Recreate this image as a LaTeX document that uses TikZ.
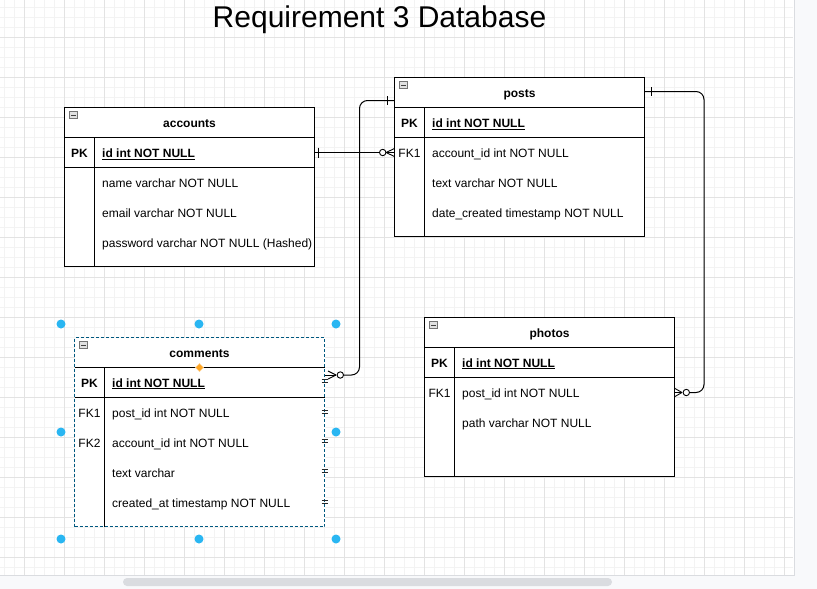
\documentclass[tikz,border=0pt]{standalone}
\usepackage{fontspec}
\setmainfont{Liberation Sans}
\usetikzlibrary{calc}
\definecolor{gridminor}{HTML}{F3F3F3}
\definecolor{gridmajor}{HTML}{E3E3E3}
\definecolor{panel}{HTML}{F8F9FB}
\definecolor{panelline}{HTML}{DADCE0}
\definecolor{scrollc}{HTML}{DADCE0}
\definecolor{handlec}{HTML}{29B6F2}
\definecolor{selblue}{HTML}{00587F}
\definecolor{diamondc}{HTML}{FFA623}
\tikzset{
  tblbox/.style={draw=black, line width=1pt, fill=white, anchor=north west,
    minimum width=250pt, inner sep=0pt, outer sep=0pt},
  selbox/.style={tblbox, draw=selblue, dash pattern=on 3pt off 2pt},
  tline/.style={line width=1pt, black},
  celltext/.style={font=\fontsize{12}{14}\selectfont, anchor=base west, inner sep=0pt},
  keytext/.style={font=\fontsize{12}{14}\selectfont, anchor=base, inner sep=0pt},
  boldkey/.style={font=\bfseries\fontsize{12}{14}\selectfont, anchor=base, inner sep=0pt},
  pktext/.style={font=\bfseries\fontsize{12}{14}\selectfont, anchor=base west, inner sep=0pt},
  hdrtext/.style={font=\bfseries\fontsize{12}{14}\selectfont, anchor=base, inner sep=0pt},
  minusbox/.style={draw=black!55, fill=black!12, line width=0.6pt, minimum width=8pt,
    minimum height=7pt, inner sep=0pt,
    path picture={\draw[line width=0.8pt, black!75]
      ([xshift=1.8pt]path picture bounding box.west) --
      ([xshift=-1.8pt]path picture bounding box.east);}},
  conn/.style={line width=1pt, black},
  ermark/.style={line width=0.9pt, black},
  ringmark/.style={line width=0.9pt, black, fill=white},
  dblmark/.style={line width=0.9pt, black!85},
  handledot/.style={circle, fill=handlec, minimum size=9pt, inner sep=0pt},
}
\begin{document}
\begin{tikzpicture}[x=1pt,y=-1pt]
\useasboundingbox (0,0) rectangle (817,589);
\fill[white] (0,0) rectangle (817,589);
% grid
\foreach \x in {4.5,14.5,...,790} \draw[gridminor, line width=1pt] (\x,0) -- (\x,575);
\foreach \y in {7,17,...,570} \draw[gridminor, line width=1pt] (0,\y) -- (793,\y);
\foreach \x in {24.5,64.5,...,790} \draw[gridmajor, line width=1pt] (\x,0) -- (\x,575);
\foreach \y in {37,77,...,570} \draw[gridmajor, line width=1pt] (0,\y) -- (793,\y);
% panels
\fill[panel] (794,0) rectangle (817,589);
\fill[panel] (0,576) rectangle (817,589);
\draw[panelline, line width=1.5pt] (794.5,0) -- (794.5,576);
\draw[panelline, line width=1pt] (0,575.5) -- (794.5,575.5);
\fill[scrollc, rounded corners=4pt] (123,578) rectangle (612,586);

% title
\node[font=\fontsize{30}{34}\selectfont, anchor=base, inner sep=0pt] (title) at (379.5,27.5) {Requirement 3 Database};

% ===== accounts =====
\node[tblbox, minimum height=159pt] (accounts) at (64.5,107.5) {};
\draw[tline] ($(accounts.north west)+(0,30)$) -- ($(accounts.north east)+(0,30)$);
\draw[tline] ($(accounts.north west)+(0,60)$) -- ($(accounts.north east)+(0,60)$);
\draw[tline] ($(accounts.north west)+(30,30)$) -- ($(accounts.south west)+(30,0)$);
\node[minusbox] (accmin) at ($(accounts.north west)+(8.8,7.5)$) {};
\node[hdrtext] (acch) at (189.5,127.3) {accounts};
\node[boldkey] (acck1) at (79.5,157.8) {PK};
\node[pktext] (accr1) at (102,157.8) {\underline{id int NOT NULL}};
\node[celltext] (accr2) at (102,187.8) {name varchar NOT NULL};
\node[celltext] (accr3) at (102,217.8) {email varchar NOT NULL};
\node[celltext] (accr4) at (102,247.8) {password varchar NOT NULL (Hashed)};

% ===== posts =====
\node[tblbox, minimum height=159pt] (posts) at (394.5,77.5) {};
\draw[tline] ($(posts.north west)+(0,30)$) -- ($(posts.north east)+(0,30)$);
\draw[tline] ($(posts.north west)+(0,60)$) -- ($(posts.north east)+(0,60)$);
\draw[tline] ($(posts.north west)+(30,30)$) -- ($(posts.south west)+(30,0)$);
\node[minusbox] (posmin) at ($(posts.north west)+(8.8,7.5)$) {};
\node[hdrtext] (posh) at (519.5,97.3) {posts};
\node[boldkey] (posk1) at (409.5,127.8) {PK};
\node[keytext] (posk2) at (409.5,157.8) {FK1};
\node[pktext] (posr1) at (432,127.8) {\underline{id int NOT NULL}};
\node[celltext] (posr2) at (432,157.8) {account\_id int NOT NULL};
\node[celltext] (posr3) at (432,187.8) {text varchar NOT NULL};
\node[celltext] (posr4) at (432,217.8) {date\_created timestamp NOT NULL};

% ===== comments (selected) =====
\node[handledot] (hd1) at (61,324) {};
\node[handledot] (hd2) at (199,324) {};
\node[handledot] (hd3) at (336,324) {};
\node[handledot] (hd4) at (61,432) {};
\node[handledot] (hd5) at (336,432) {};
\node[handledot] (hd6) at (61,539) {};
\node[handledot] (hd7) at (199,539) {};
\node[handledot] (hd8) at (336,539) {};
\node[selbox, minimum height=189pt] (comments) at (74.5,337.5) {};
\draw[tline] ($(comments.north west)+(0,30)$) -- ($(comments.north east)+(0,30)$);
\draw[tline] ($(comments.north west)+(0,60)$) -- ($(comments.north east)+(0,60)$);
\draw[tline] ($(comments.north west)+(30,30)$) -- ($(comments.south west)+(30,0)$);
\node[minusbox] (commin) at ($(comments.north west)+(8.8,7.5)$) {};
\node[hdrtext] (comh) at (199.5,357.3) {comments};
\node[boldkey] (comk1) at (89.5,387) {PK};
\node[keytext] (comk2) at (89.5,417) {FK1};
\node[keytext] (comk3) at (89.5,447) {FK2};
\node[pktext] (comr1) at (112,387) {\underline{id int NOT NULL}};
\node[celltext] (comr2) at (112,417) {post\_id int NOT NULL};
\node[celltext] (comr3) at (112,447) {account\_id int NOT NULL};
\node[celltext] (comr4) at (112,477) {text varchar};
\node[celltext] (comr5) at (112,507) {created\_at timestamp NOT NULL};
\fill[diamondc, draw=diamondc!50!white, line width=0.5pt] (199.5,363.5) -- (203.5,367.5) -- (199.5,371.5) -- (195.5,367.5) -- cycle;
\foreach \dy in {43.5,74,103.5,133,164} {
  \draw[dblmark] ($(comments.north east)+(-3,\dy-1.5)$) -- ($(comments.north east)+(3,\dy-1.5)$);
  \draw[dblmark] ($(comments.north east)+(-3,\dy+1.5)$) -- ($(comments.north east)+(3,\dy+1.5)$);
}

% ===== photos =====
\node[tblbox, minimum height=159pt] (photos) at (424.5,317.5) {};
\draw[tline] ($(photos.north west)+(0,30)$) -- ($(photos.north east)+(0,30)$);
\draw[tline] ($(photos.north west)+(0,60)$) -- ($(photos.north east)+(0,60)$);
\draw[tline] ($(photos.north west)+(30,30)$) -- ($(photos.south west)+(30,0)$);
\node[minusbox] (phomin) at ($(photos.north west)+(8.8,7.5)$) {};
\node[hdrtext] (phoh) at (549.5,337.3) {photos};
\node[boldkey] (phok1) at (439.5,367) {PK};
\node[keytext] (phok2) at (439.5,397) {FK1};
\node[pktext] (phor1) at (462,367) {\underline{id int NOT NULL}};
\node[celltext] (phor2) at (462,397) {post\_id int NOT NULL};
\node[celltext] (phor3) at (462,427) {path varchar NOT NULL};

% ===== connectors =====
% accounts.id -> posts.account_id
\coordinate (a1) at ($(accounts.north east)+(0,45)$);
\coordinate (p1) at ($(posts.north west)+(0,75)$);
\draw[conn] (a1) -- ($(p1)+(-14.5,0)$);
\draw[ermark] ($(a1)+(3.5,-5)$) -- ($(a1)+(3.5,5)$);
\draw[ermark] ($(p1)+(-8.5,0)$) -- ($(p1)+(0,-4)$);
\draw[ermark] ($(p1)+(-8.5,0)$) -- (p1);
\draw[ermark] ($(p1)+(-8.5,0)$) -- ($(p1)+(0,4)$);
\draw[ringmark] ($(p1)+(-11.8,0)$) circle (3.2pt);

% posts -> comments
\coordinate (p0) at ($(posts.north west)+(0,23)$);
\coordinate (c0) at ($(comments.north east)+(0,37.5)$);
\draw[conn, rounded corners=8pt] (p0) -| ($(c0)+(35,0)$) -- ($(c0)+(19,0)$);
\draw[ermark] ($(p0)+(-7,-4.5)$) -- ($(p0)+(-7,4.5)$);
\draw[ermark] ($(c0)+(11.5,0)$) -- ($(c0)+(3.5,-4)$);
\draw[ermark] ($(c0)+(11.5,0)$) -- (c0);
\draw[ermark] ($(c0)+(11.5,0)$) -- ($(c0)+(3.5,4)$);
\draw[ringmark] ($(c0)+(15.8,0)$) circle (3.2pt);

% posts -> photos
\coordinate (p3) at ($(posts.north east)+(0,14)$);
\coordinate (h1) at ($(photos.north east)+(0,75)$);
\draw[conn, rounded corners=8pt] (p3) -| ($(h1)+(29.5,0)$) -- ($(h1)+(15,0)$);
\draw[ermark] ($(p3)+(6.5,-4.5)$) -- ($(p3)+(6.5,4.5)$);
\draw[ermark] ($(h1)+(7.5,0)$) -- ($(h1)+(0.5,-4)$);
\draw[ermark] ($(h1)+(7.5,0)$) -- (h1);
\draw[ermark] ($(h1)+(7.5,0)$) -- ($(h1)+(0.5,4)$);
\draw[ringmark] ($(h1)+(11.8,0)$) circle (3.2pt);
\end{tikzpicture}
\end{document}
